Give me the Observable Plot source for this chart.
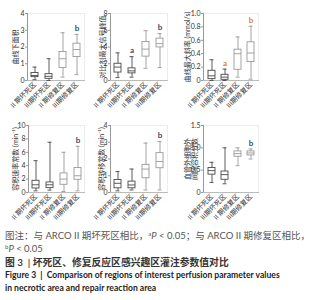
<!DOCTYPE html>
<html><head><meta charset="utf-8">
<script src="https://cdn.jsdelivr.net/npm/d3@7"></script>
<script src="https://cdn.jsdelivr.net/npm/@observablehq/plot@0.6"></script>
<style>
body{margin:0;background:#fff;}
#wrap{position:relative;width:321px;height:300px;overflow:hidden;}
.cell{position:absolute;}
.cell svg{overflow:visible;}
.cap{position:absolute;left:5px;white-space:nowrap;line-height:12px;font-family:Lato,"Noto Sans CJK SC",sans-serif;}
.note{font-size:9.5px;color:#555;}
.t3{font-size:9.8px;color:#333;font-weight:600;}
.en{font-size:8.6px;color:#222;font-weight:bold;}
.sup{font-size:6px;vertical-align:3px;}
</style></head><body><div id="wrap"></div>
<script>
const groups = ["II 期坏死区", "III期坏死区", "II 期修复区", "III期修复区"];
const shades = ["#4a4a4a", "#4a4a4a", "#9a9a9a", "#9a9a9a"];

// each row: [min, q1, median, q3, max]
const aucStats = [[0.05, 0.2, 0.3, 0.45, 0.8], [0, 0.1, 0.25, 0.38, 1.3], [0.2, 0.75, 1.3, 1.7, 2.85], [0.35, 1.4, 1.85, 2.2, 2.75]];
const peakStats = [[0.35, 0.95, 1.6, 2.0, 3.3], [0.4, 0.85, 1.15, 1.45, 2.85], [1.45, 2.85, 3.75, 4.6, 5.95], [1.55, 3.95, 4.4, 5.0, 5.6]];
const slopeStats = [[0, 0.02, 0.07, 0.145, 0.31], [0, 0.01, 0.05, 0.085, 0.17], [0.05, 0.16, 0.4, 0.46, 0.65], [0.02, 0.275, 0.41, 0.57, 0.81]];
const kepStats = [[0.25, 0.6, 1.15, 1.75, 4.75], [0.35, 0.65, 1.15, 1.5, 7.5], [0.15, 1.15, 2.0, 2.85, 6.0], [0.25, 1.9, 2.5, 3.65, 6.9]];
const ktransStats = [[0.1, 0.25, 0.55, 0.75, 1.25], [0.15, 0.25, 0.45, 0.65, 1.4], [0.15, 0.85, 1.4, 1.65, 2.95], [0.15, 1.45, 1.85, 2.35, 3.05]];
const veStats = [[0.225, 0.4, 0.49, 0.55, 0.675], [0.195, 0.285, 0.4, 0.47, 1.0], [0.6, 0.8, 0.87, 0.92, 1.0], [0.75, 0.83, 0.885, 0.92, 0.975]];

const aucLetters = ["", "", "", "b"];
const peakLetters = ["", "a", "", "b"];
const slopeLetters = ["", "a", "", "b"];
const kepLetters = ["", "", "", "b"];
const ktransLetters = ["", "", "", "b"];
const veLetters = ["", "", "", "b"];

const aucTicks = [0, 1, 2, 3, 4];
const peakTicks = [0, 2, 4, 6, 8];
const slopeTicks = [0, 0.2, 0.4, 0.6, 0.8, 1.0];
const kepTicks = [0, 2, 4, 6, 8, 10];
const ktransTicks = [0, 1, 2, 3, 4];
const veTicks = [0, 0.5, 1.0, 1.5];

const fmt1 = d => d === 0 ? "0" : d3.format(".1f")(d);
const fmt0 = d => String(d);

const wrap = document.getElementById("wrap");

function boxChart(o) {
  const data = groups.map((g, i) => ({
    g, min: o.stats[i][0], q1: o.stats[i][1], med: o.stats[i][2], q3: o.stats[i][3], max: o.stats[i][4],
    letter: o.letters[i], c: shades[i]
  }));
  const chart = Plot.plot({
    width: o.w, height: 108,
    marginLeft: o.ml, marginRight: o.w - o.ml - o.pw, marginTop: 13, marginBottom: 28,
    style: {fontFamily: "Lato,'Noto Sans CJK SC',sans-serif", fontSize: "7px", color: "#333", background: "transparent", overflow: "visible"},
    x: {domain: groups, paddingInner: 0.5, paddingOuter: o.po, label: null},
    y: {domain: [0, o.ticks[o.ticks.length - 1]], label: null},
    marks: [
      Plot.frame({stroke: "#ececec"}),
      Plot.frame({anchor: "left", stroke: "#999"}),
      Plot.frame({anchor: "bottom", stroke: "#bbb"}),
      Plot.axisY({ticks: o.ticks, tickFormat: o.fmt, tickSize: 2, tickPadding: 1, stroke: "#999",
        label: o.label, labelAnchor: "center", labelOffset: o.lo, labelArrow: "none", fontSize: 7}),
      Plot.axisX({tickRotate: -45, tickSize: 0, tickPadding: 3, label: null, fontSize: 6.8}),
      Plot.ruleX(data, {x: "g", y1: "min", y2: "max", stroke: "c", strokeWidth: 0.9}),
      Plot.barY(data, {x: "g", y1: "q1", y2: "q3", fill: "white", stroke: "c", strokeWidth: 0.9}),
      Plot.tickY(data, {x: "g", y: "med", stroke: "c", strokeWidth: 0.9}),
      Plot.tickY(data, {x: "g", y: "min", stroke: "c", inset: 1.5, strokeWidth: 0.9}),
      Plot.tickY(data, {x: "g", y: "max", stroke: "c", inset: 1.5, strokeWidth: 0.9}),
      Plot.text(data, {x: "g", y: "max", text: "letter", dy: -6, fill: o.letterColor || "#2f4a6b", fontWeight: "bold", fontSize: 8})
    ]
  });
  const div = document.createElement("div");
  div.className = "cell";
  div.style.left = o.left + "px";
  div.style.top = o.top + "px";
  div.appendChild(chart);
  wrap.appendChild(div);
}

boxChart({stats: aucStats, letters: aucLetters, ticks: aucTicks, fmt: fmt0, label: "曲线下面积", left: 0, top: 0, w: 88, ml: 27, pw: 57, po: 0.2, lo: 14});
boxChart({stats: peakStats, letters: peakLetters, ticks: peakTicks, fmt: fmt0, label: "对比剂最大信号峰值", left: 88, top: 0, w: 84, ml: 22, pw: 57, po: 0.25, lo: 10});
boxChart({stats: slopeStats, letters: slopeLetters, ticks: slopeTicks, fmt: fmt1, label: "曲线最大斜率 (mmol/s)", left: 172, top: 0, w: 90, ml: 31, pw: 55, po: 0.25, lo: 18, letterColor: "#e0802a"});
boxChart({stats: kepStats, letters: kepLetters, ticks: kepTicks, fmt: fmt0, label: "容积速率常数 (min⁻¹)", left: 0, top: 112, w: 88, ml: 28, pw: 56, po: 0.25, lo: 15});
boxChart({stats: ktransStats, letters: ktransLetters, ticks: ktransTicks, fmt: fmt0, label: "容积转移常数 (min⁻¹)", left: 88, top: 112, w: 84, ml: 22, pw: 57, po: 0.28, lo: 11});
boxChart({stats: veStats, letters: veLetters, ticks: veTicks, fmt: fmt1, label: "血管外细胞外\n间隙容积分数", left: 172, top: 112, w: 90, ml: 31, pw: 55, po: 0.25, lo: 18});

const caps = [
  {cls: "note", top: 228, html: "图注：与 ARCO II 期坏死区相比，<span class='sup'>a</span><i>P</i> &lt; 0.05；与 ARCO II 期修复区相比，"},
  {cls: "note", top: 241, html: "<span class='sup'>b</span><i>P</i> &lt; 0.05"},
  {cls: "t3", top: 256, html: "图 3 &nbsp;|&nbsp;坏死区、修复反应区感兴趣区灌注参数值对比"},
  {cls: "en", top: 269, html: "Figure 3 &nbsp;|&nbsp; Comparison of regions of interest perfusion parameter values"},
  {cls: "en", top: 282, html: "in necrotic area and repair reaction area"}
];
caps.forEach(c => {
  const d = document.createElement("div");
  d.className = "cap " + c.cls;
  d.style.top = c.top + "px";
  d.innerHTML = c.html;
  wrap.appendChild(d);
});
</script></body></html>
